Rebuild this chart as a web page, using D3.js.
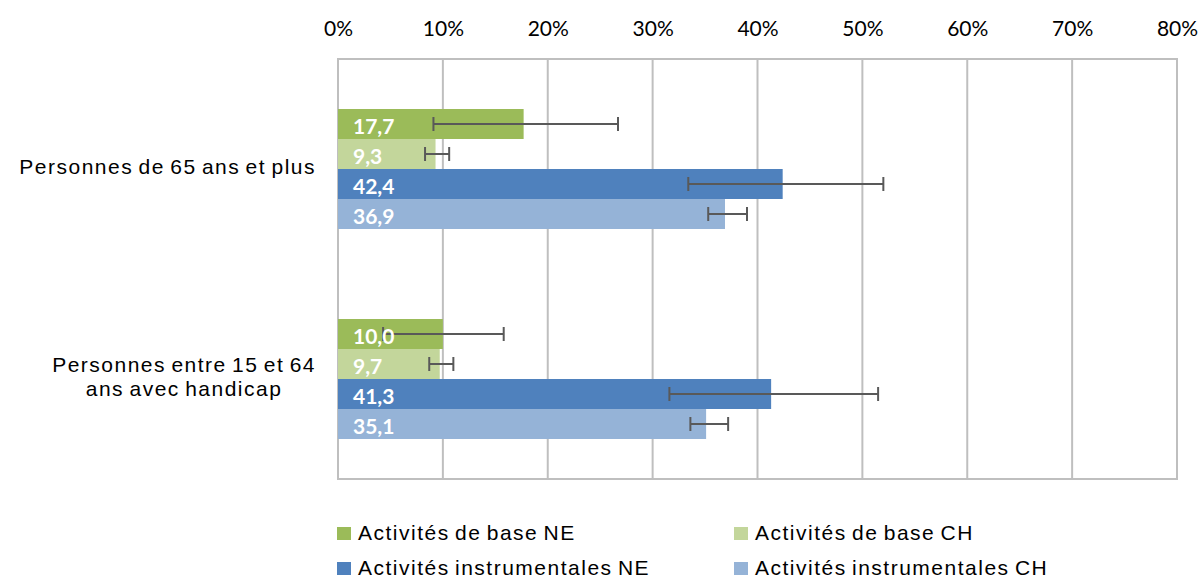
<!DOCTYPE html>
<html><head><meta charset="utf-8">
<script src="https://cdn.jsdelivr.net/npm/d3@7"></script>
<style>
html,body{margin:0;padding:0;background:#fff;}
svg{display:block;}
</style></head>
<body><svg id="chart" width="1200" height="578"></svg>
<script>
const categories = ["Personnes de 65 ans et plus", "Personnes entre 15 et 64 ans avec handicap"];
const categoryLines = [["Personnes de 65 ans et plus"], ["Personnes entre 15 et 64", "ans avec handicap"]];
const seriesNames = ["Activités de base NE", "Activités de base CH", "Activités instrumentales NE", "Activités instrumentales CH"];
const seriesColors = ["#9BBB59", "#C3D69B", "#4F81BD", "#95B3D7"];
const baseNE = [17.7, 10.0];
const baseCH = [9.3, 9.7];
const instrNE = [42.4, 41.3];
const instrCH = [36.9, 35.1];
const baseNELow = [9.1, 4.3], baseNEHigh = [26.7, 15.8];
const baseCHLow = [8.3, 8.7], baseCHHigh = [10.6, 11.0];
const instrNELow = [33.4, 31.6], instrNEHigh = [52.0, 51.5];
const instrCHLow = [35.3, 33.6], instrCHHigh = [39.0, 37.2];
const tickValues = [0, 10, 20, 30, 40, 50, 60, 70, 80];

const values = [baseNE, baseCH, instrNE, instrCH];
const lows = [baseNELow, baseCHLow, instrNELow, instrCHLow];
const highs = [baseNEHigh, baseCHHigh, instrNEHigh, instrCHHigh];

const data = [];
categories.forEach((c, ci) => {
  seriesNames.forEach((s, si) => {
    data.push({cat: c, ci, series: s, si, v: values[si][ci], lo: lows[si][ci], hi: highs[si][ci]});
  });
});

const svg = d3.select("#chart");
const L = 338, R = 1177, T = 59, B = 479;
const x = d3.scaleLinear().domain([0, 80]).range([L, R]);
const y = d3.scaleBand().domain(categories).range([T, B]);
const groupH = 120;
const sub = d3.scaleBand().domain(seriesNames).range([0, groupH]);
const off = (y.bandwidth() - groupH) / 2 + 5;

// gridlines
svg.append("g").selectAll("line").data(tickValues).join("line")
  .attr("x1", d => x(d)).attr("x2", d => x(d)).attr("y1", T).attr("y2", B)
  .attr("stroke", "#BFBFBF").attr("stroke-width", 2);
// plot border
svg.append("rect").attr("x", L).attr("y", T).attr("width", R - L).attr("height", B - T)
  .attr("fill", "none").attr("stroke", "#BFBFBF").attr("stroke-width", 2);

// top axis labels
const ax = svg.append("g").attr("transform", `translate(0,${T - 23})`)
  .call(d3.axisTop(x).tickValues(tickValues).tickSize(0).tickPadding(0).tickFormat(d => d + "%"));
ax.select(".domain").remove();
ax.selectAll("text").attr("font-family", "Lato, 'Open Sans', sans-serif").attr("font-size", 21).attr("fill", "#000");

// bars
svg.append("g").selectAll("rect").data(data).join("rect")
  .attr("x", x(0)).attr("y", d => y(d.cat) + off + sub(d.series))
  .attr("width", d => x(d.v) - x(0)).attr("height", sub.bandwidth())
  .attr("fill", d => seriesColors[d.si]);

// error bars
const eb = svg.append("g").attr("stroke", "#595959").attr("stroke-width", 2);
data.forEach(d => {
  const cy = y(d.cat) + off + sub(d.series) + sub.bandwidth() / 2;
  eb.append("line").attr("x1", x(d.lo)).attr("x2", x(d.hi)).attr("y1", cy).attr("y2", cy);
  [d.lo, d.hi].forEach(v => eb.append("line").attr("x1", x(v)).attr("x2", x(v)).attr("y1", cy - 7).attr("y2", cy + 7));
});

// data labels
svg.append("g").selectAll("text").data(data).join("text")
  .attr("x", x(0) + 15).attr("y", d => y(d.cat) + off + sub(d.series) + sub.bandwidth() / 2 + 2)
  .attr("dy", "0.36em")
  .attr("font-family", "Lato, 'Open Sans', sans-serif").attr("font-weight", "bold").attr("font-size", 21)
  .attr("fill", "#fff").text(d => d3.format(".1f")(d.v).replace(".", ","));

// category labels
const cl = svg.append("g");
categories.forEach((c, ci) => {
  const lines = categoryLines[ci];
  const cy = y(c) + y.bandwidth() / 2 + 3;
  const lh = 24;
  const t = cl.append("text").attr("font-family", "'Liberation Sans', Arial, sans-serif")
    .attr("font-size", 21).attr("letter-spacing", 1.5).attr("word-spacing", -2)
    .attr("fill", "#000").attr("text-anchor", "middle");
  lines.forEach((ln, li) => {
    t.append("tspan").attr("x", 0).attr("y", cy + (li - (lines.length - 1) / 2) * lh).attr("dy", "0.35em").text(ln);
  });
  const w = t.node().getBBox().width;
  t.attr("transform", `translate(${316 - w / 2},0)`);
});

// legend
const legendPos = [[337, 540], [734, 540], [337, 575], [734, 575]];
const lg = svg.append("g");
seriesNames.forEach((s, si) => {
  const [lx, ly] = legendPos[si];
  lg.append("rect").attr("x", lx).attr("y", ly - 13).attr("width", 14).attr("height", 13).attr("fill", seriesColors[si]);
  lg.append("text").attr("x", lx + 21).attr("y", ly)
    .attr("font-family", "'Liberation Sans', Arial, sans-serif").attr("font-size", 21)
    .attr("letter-spacing", 1.5).attr("word-spacing", -2)
    .attr("fill", "#000").text(s);
});
</script></body></html>
